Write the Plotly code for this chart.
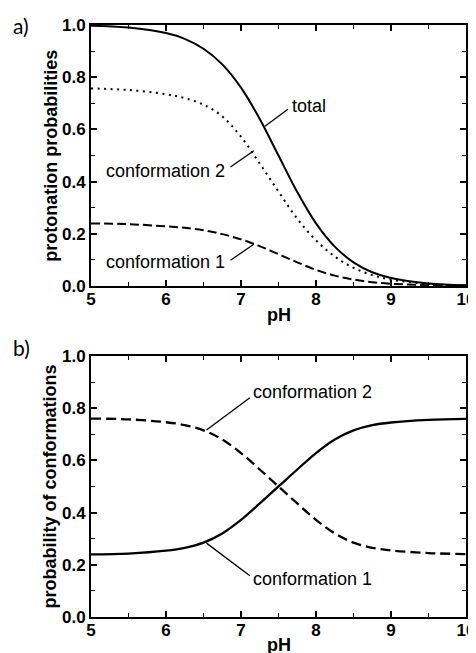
import plotly.graph_objects as go
from plotly.subplots import make_subplots

# ---- data ----
ph = [5.0, 5.5, 6.0, 6.25, 6.5, 6.75, 7.0, 7.25, 7.5, 7.75, 8.0, 8.25, 8.5, 8.75, 9.0, 9.5, 10.0]

# panel a) protonation probabilities
prot_total = [0.997, 0.990, 0.969, 0.947, 0.909, 0.849, 0.760, 0.640, 0.500, 0.360, 0.240, 0.151, 0.091, 0.053, 0.031, 0.010, 0.003]
prot_conf2 = [0.757, 0.751, 0.735, 0.720, 0.695, 0.650, 0.572, 0.469, 0.362, 0.258, 0.175, 0.113, 0.070, 0.042, 0.025, 0.008, 0.002]
prot_conf1 = [0.240, 0.237, 0.229, 0.223, 0.214, 0.199, 0.179, 0.153, 0.122, 0.091, 0.062, 0.040, 0.025, 0.015, 0.009, 0.003, 0.001]

# panel b) probability of conformations
conf_prob2 = [0.760, 0.757, 0.746, 0.735, 0.715, 0.680, 0.628, 0.565, 0.500, 0.435, 0.372, 0.320, 0.285, 0.265, 0.255, 0.245, 0.241]
conf_prob1 = [0.240, 0.243, 0.254, 0.265, 0.285, 0.320, 0.372, 0.435, 0.500, 0.565, 0.628, 0.680, 0.715, 0.735, 0.745, 0.755, 0.759]

x_ticks = [5, 6, 7, 8, 9, 10]
y_ticks = [0.0, 0.2, 0.4, 0.6, 0.8, 1.0]
y_ticklabels = ["0.0", "0.2", "0.4", "0.6", "0.8", "1.0"]

# ---- figure ----
# the page body has an 8px margin, so the figure is 8px smaller than the window
fig = make_subplots(rows=2, cols=1, vertical_spacing=0.118)

fig.add_trace(go.Scatter(x=ph, y=prot_total, mode="lines", line=dict(color="black", width=2, shape="spline"), name="total"), 1, 1)
fig.add_trace(go.Scatter(x=ph, y=prot_conf2, mode="lines", line=dict(color="black", width=2, dash="2px,4.5px", shape="spline"), name="conformation 2"), 1, 1)
fig.add_trace(go.Scatter(x=ph, y=prot_conf1, mode="lines", line=dict(color="black", width=2, dash="9px,4px", shape="spline"), name="conformation 1"), 1, 1)

fig.add_trace(go.Scatter(x=ph, y=conf_prob1, mode="lines", line=dict(color="black", width=2.3, shape="spline"), name="conformation 1"), 2, 1)
fig.add_trace(go.Scatter(x=ph, y=conf_prob2, mode="lines", line=dict(color="black", width=2.3, dash="10px,5px", shape="spline"), name="conformation 2"), 2, 1)

tickfont = dict(family="Liberation Sans, Arial, sans-serif", size=17, color="black")
titlefont = dict(family="Liberation Sans, Arial, sans-serif", size=18, color="black")

for r in (1, 2):
    fig.update_xaxes(row=r, col=1, range=[5, 10], tickvals=x_ticks, ticktext=[f"<b>{v}</b>" for v in x_ticks],
                     ticks="inside", ticklen=6, tickwidth=1.5, tickcolor="black",
                     minor=dict(dtick=0.5, tick0=5, ticks="inside", ticklen=4, tickwidth=1.2, tickcolor="black"),
                     showline=True, linecolor="black", linewidth=2, mirror="ticks",
                     showgrid=False, zeroline=False, tickfont=tickfont, automargin=False,
                     ticklabelstandoff=-3)
    fig.update_yaxes(row=r, col=1, range=[0, 1], tickvals=y_ticks, ticktext=[f"<b>{t}</b>" for t in y_ticklabels],
                     ticks="inside", ticklen=6, tickwidth=1.5, tickcolor="black",
                     minor=dict(dtick=0.1, tick0=0, ticks="inside", ticklen=4, tickwidth=1.2, tickcolor="black"),
                     showline=True, linecolor="black", linewidth=2, mirror="ticks",
                     showgrid=False, zeroline=False, tickfont=tickfont, automargin=False)

# axis titles
fig.add_annotation(xref="x", yref="paper", x=7.5, y=0.510, text="<b>pH</b>", showarrow=False,
                   xanchor="center", yanchor="middle", font=titlefont)
fig.add_annotation(xref="x2", yref="paper", x=7.5, y=-0.047, text="<b>pH</b>", showarrow=False,
                   xanchor="center", yanchor="middle", font=titlefont)
fig.add_annotation(xref="paper", yref="paper", x=-0.109, y=0.7795, text="<b>protonation probabilities</b>",
                   textangle=-90, showarrow=False, xanchor="center", yanchor="middle", font=titlefont)
fig.add_annotation(xref="paper", yref="paper", x=-0.109, y=0.2205, text="<b>probability of conformations</b>",
                   textangle=-90, showarrow=False, xanchor="center", yanchor="middle", font=titlefont)

lblfont = dict(family="Liberation Sans, Arial, sans-serif", size=18, color="black")
leader = dict(color="black", width=1.3)

# panel a labels
fig.add_shape(type="line", xref="x", yref="y", x0=7.32, y0=0.612, x1=7.625, y1=0.677, line=leader)
fig.add_annotation(xref="x", yref="y", x=7.65, y=0.688, text="total", showarrow=False, xanchor="left", yanchor="middle", font=lblfont)
fig.add_shape(type="line", xref="x", yref="y", x0=7.171, y0=0.518, x1=6.86, y1=0.456, line=leader)
fig.add_annotation(xref="x", yref="y", x=6.81, y=0.441, text="conformation 2", showarrow=False, xanchor="right", yanchor="middle", font=lblfont)
fig.add_shape(type="line", xref="x", yref="y", x0=7.171, y0=0.160, x1=6.86, y1=0.099, line=leader)
fig.add_annotation(xref="x", yref="y", x=6.81, y=0.091, text="conformation 1", showarrow=False, xanchor="right", yanchor="middle", font=lblfont)

# panel b labels
fig.add_shape(type="line", xref="x2", yref="y2", x0=6.54, y0=0.716, x1=7.118, y1=0.840, line=leader)
fig.add_annotation(xref="x2", yref="y2", x=7.127, y=0.863, text="conformation 2", showarrow=False, xanchor="left", yanchor="middle", font=lblfont)
fig.add_shape(type="line", xref="x2", yref="y2", x0=6.54, y0=0.283, x1=7.118, y1=0.158, line=leader)
fig.add_annotation(xref="x2", yref="y2", x=7.127, y=0.145, text="conformation 1", showarrow=False, xanchor="left", yanchor="middle", font=lblfont)

# panel letters
panelfont = dict(family="Lato, Open Sans, sans-serif", size=21, color="black")
fig.add_annotation(xref="paper", yref="paper", x=-0.213, y=1.0, text="a)", showarrow=False, xanchor="left", yanchor="middle", font=panelfont)
fig.add_annotation(xref="paper", yref="paper", x=-0.213, y=0.4545, text="b)", showarrow=False, xanchor="left", yanchor="middle", font=panelfont)

fig.update_layout(template="none", width=468, height=645, margin=dict(l=83, r=10, t=17, b=36),
                  paper_bgcolor="white", plot_bgcolor="white", showlegend=False)

fig.write_html("out.html")
